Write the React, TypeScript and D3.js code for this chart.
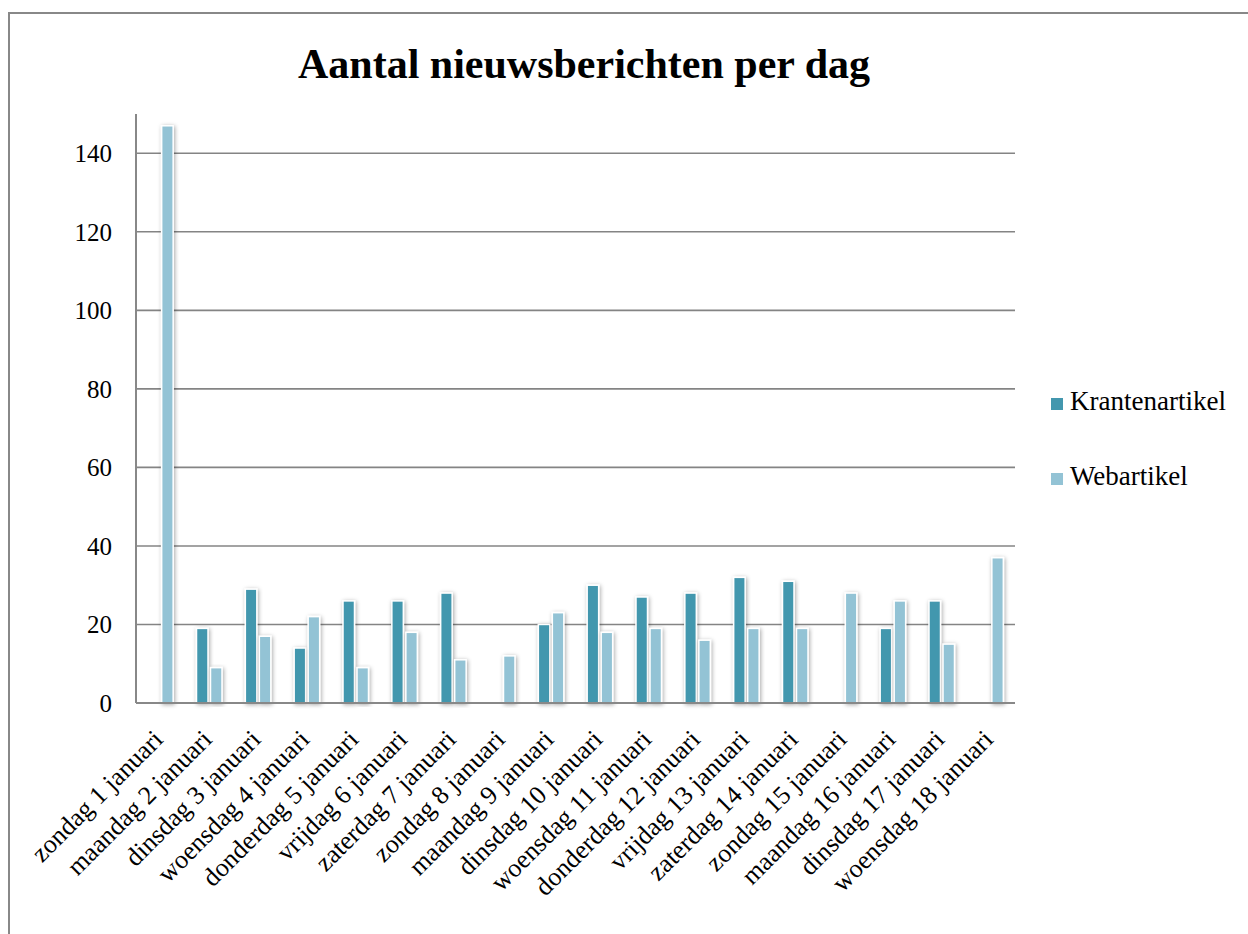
import React, { useRef, useEffect } from "react";
import * as d3 from "d3";

// Categories (days) and series values
const days = [
  "zondag 1 januari",
  "maandag 2 januari",
  "dinsdag 3 januari",
  "woensdag 4 januari",
  "donderdag 5 januari",
  "vrijdag 6 januari",
  "zaterdag 7 januari",
  "zondag 8 januari",
  "maandag 9 januari",
  "dinsdag 10 januari",
  "woensdag 11 januari",
  "donderdag 12 januari",
  "vrijdag 13 januari",
  "zaterdag 14 januari",
  "zondag 15 januari",
  "maandag 16 januari",
  "dinsdag 17 januari",
  "woensdag 18 januari",
];
const krantenartikel = [0, 19, 29, 14, 26, 26, 28, 0, 20, 30, 27, 28, 32, 31, 0, 19, 26, 0];
const webartikel = [147, 9, 17, 22, 9, 18, 11, 12, 23, 18, 19, 16, 19, 19, 28, 26, 15, 37];
const yTicks = [0, 20, 40, 60, 80, 100, 120, 140];
const seriesNames = ["Krantenartikel", "Webartikel"];
const colors = ["#4397ae", "#93c3d5"];

const FONT = "'Liberation Serif', 'DejaVu Serif', serif";

const BarChart = () => {
  const svgRef = useRef<SVGSVGElement>(null);

  useEffect(() => {
    const W = 1248;
    const H = 934;
    const margin = { top: 114, right: 233, bottom: 231, left: 136 };
    const width = W - margin.left - margin.right;
    const height = H - margin.top - margin.bottom;

    const svg = d3.select(svgRef.current).attr("width", W).attr("height", H);
    svg.selectAll("*").remove();

    // Drop shadow for bars
    const defs = svg.append("defs");
    const filter = defs
      .append("filter")
      .attr("id", "shadow")
      .attr("x", "-50%")
      .attr("y", "-10%")
      .attr("width", "200%")
      .attr("height", "120%");
    filter
      .append("feDropShadow")
      .attr("dx", 1)
      .attr("dy", 1)
      .attr("stdDeviation", 2)
      .attr("flood-color", "#000")
      .attr("flood-opacity", 0.35);

    // Outer frame
    svg
      .append("rect")
      .attr("x", 9)
      .attr("y", 13)
      .attr("width", W)
      .attr("height", H)
      .attr("fill", "white")
      .attr("stroke", "#888")
      .attr("stroke-width", 2);

    // Title
    svg
      .append("text")
      .attr("x", 584)
      .attr("y", 78)
      .attr("text-anchor", "middle")
      .attr("font-family", FONT)
      .attr("font-weight", "bold")
      .attr("font-size", 42)
      .attr("fill", "#000")
      .text("Aantal nieuwsberichten per dag");

    const g = svg.append("g").attr("transform", `translate(${margin.left},${margin.top})`);

    const x0 = d3.scaleBand().domain(days).range([0, width]).padding(0);
    const yScale = d3.scaleLinear().domain([0, 150]).range([height, 0]);

    // Grid lines
    g.selectAll(".grid")
      .data(yTicks.filter((t) => t > 0))
      .enter()
      .append("line")
      .attr("x1", 0)
      .attr("x2", width)
      .attr("y1", (d) => yScale(d))
      .attr("y2", (d) => yScale(d))
      .attr("stroke", "#848484")
      .attr("stroke-width", 1.6);

    // Y tick labels
    g.selectAll(".ylab")
      .data(yTicks)
      .enter()
      .append("text")
      .attr("x", -24)
      .attr("y", (d) => yScale(d))
      .attr("dy", "0.35em")
      .attr("text-anchor", "end")
      .attr("font-family", FONT)
      .attr("font-size", 25)
      .attr("fill", "#000")
      .text((d) => d);

    // Bars
    const barW = 11.5;
    const gap = 2.5;
    const series = [krantenartikel, webartikel];
    series.forEach((vals, si) => {
      g.selectAll(`.bar${si}`)
        .data(vals.map((v, i) => ({ v, day: days[i] })).filter((d) => d.v > 0))
        .enter()
        .append("rect")
        .attr("x", (d) => {
          const c = (x0(d.day) as number) + x0.bandwidth() / 2;
          return si === 0 ? c - gap / 2 - barW : c + gap / 2;
        })
        .attr("y", (d) => yScale(d.v))
        .attr("width", barW)
        .attr("height", (d) => yScale(0) - yScale(d.v))
        .attr("fill", colors[si])
        .attr("stroke", "white")
        .attr("stroke-width", 1.5)
        .attr("filter", "url(#shadow)");
    });

    // Axes lines
    g.append("line")
      .attr("x1", 0)
      .attr("x2", 0)
      .attr("y1", 0)
      .attr("y2", height)
      .attr("stroke", "#888")
      .attr("stroke-width", 2);
    g.append("line")
      .attr("x1", 0)
      .attr("x2", width)
      .attr("y1", height)
      .attr("y2", height)
      .attr("stroke", "#888")
      .attr("stroke-width", 2);

    // X labels, rotated
    g.selectAll(".xlab")
      .data(days)
      .enter()
      .append("text")
      .attr("transform", (d) => {
        const c = (x0(d) as number) + x0.bandwidth() / 2 + 4;
        return `translate(${c},${height + 38}) rotate(-45)`;
      })
      .attr("text-anchor", "end")
      .attr("font-family", FONT)
      .attr("font-size", 26)
      .attr("fill", "#000")
      .text((d) => d);

    // Legend
    const legend = svg
      .append("g")
      .attr("transform", "translate(1051,398)");
    seriesNames.forEach((name, i) => {
      const row = legend.append("g").attr("transform", `translate(0,${i * 75})`);
      row.append("rect").attr("width", 12).attr("height", 12).attr("fill", colors[i]);
      row
        .append("text")
        .attr("x", 19)
        .attr("y", 12)
        .attr("font-family", FONT)
        .attr("font-size", 27)
        .attr("fill", "#000")
        .text(name);
    });
  }, []);

  return <svg ref={svgRef} style={{ display: "block", position: "absolute", left: 0, top: 0 }}></svg>;
};

export default function App() {
  return <BarChart />;
}
